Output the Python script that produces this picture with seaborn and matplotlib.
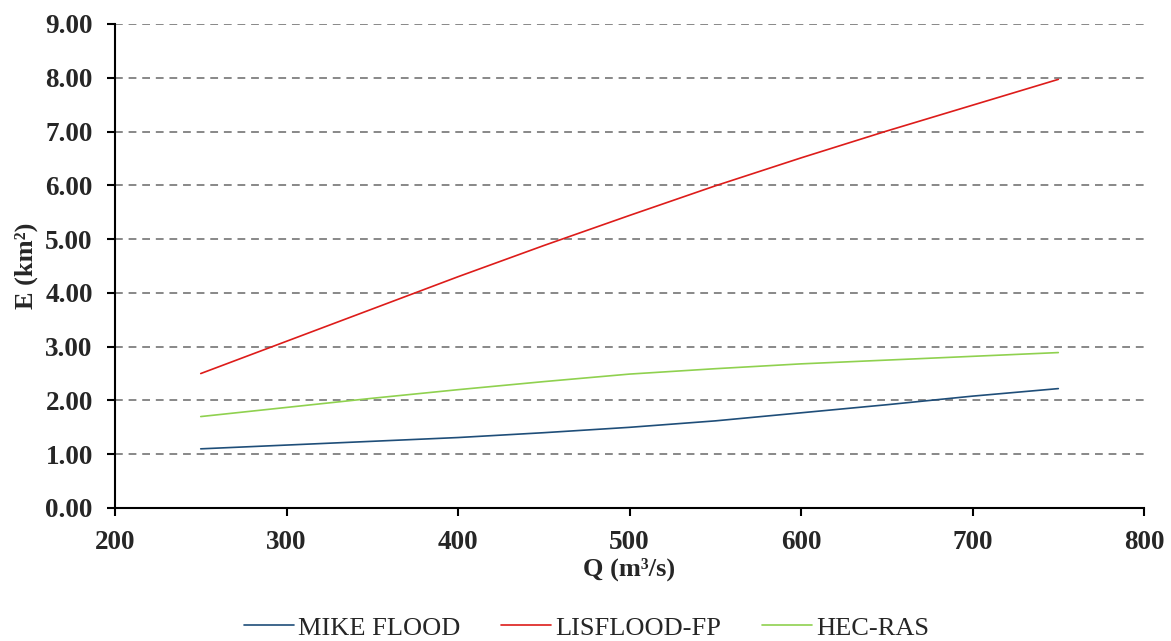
import matplotlib
matplotlib.use("Agg")
import matplotlib.pyplot as plt
import seaborn as sns
import pandas as pd
from matplotlib.ticker import FormatStrFormatter, MultipleLocator

# ---- data ----
discharge = [250, 300, 350, 400, 450, 500, 550, 600, 650, 700, 750]
mike_flood = [1.10, 1.17, 1.24, 1.31, 1.40, 1.50, 1.62, 1.77, 1.92, 2.08, 2.22]
lisflood_fp = [2.50, 3.10, 3.70, 4.30, 4.88, 5.44, 5.99, 6.51, 7.01, 7.49, 7.97]
hec_ras = [1.70, 1.87, 2.04, 2.20, 2.35, 2.49, 2.59, 2.68, 2.75, 2.82, 2.89]
series_names = ["MIKE FLOOD", "LISFLOOD-FP", "HEC-RAS"]
series_colors = ["#1F4E79", "#DD1C1A", "#8FD14F"]

df = pd.concat([
    pd.DataFrame({"Q": discharge, "E": vals, "model": name})
    for name, vals in zip(series_names, [mike_flood, lisflood_fp, hec_ras])
])

sns.set_theme(style="white")
plt.rcParams["font.family"] = ["Liberation Serif", "DejaVu Serif"]

fig = plt.figure(figsize=(11.71, 6.41), dpi=100)
ax = fig.add_axes([0.0982, 0.2075, 0.8788, 0.7551])

sns.lineplot(data=df, x="Q", y="E", hue="model", hue_order=series_names,
             palette=series_colors, linewidth=1.2, ax=ax, legend=False, sort=True)

ax.set_xlim(200, 800)
ax.set_ylim(0, 9)
ax.xaxis.set_major_locator(MultipleLocator(100))
ax.yaxis.set_major_locator(MultipleLocator(1))
ax.yaxis.set_major_formatter(FormatStrFormatter("%.2f"))

ax.yaxis.grid(True, color="#888888", linestyle=(0, (4, 3)), linewidth=1.4)
ax.xaxis.grid(False)
ax.set_axisbelow(True)

for s in ["top", "right"]:
    ax.spines[s].set_visible(False)
for s in ["left", "bottom"]:
    ax.spines[s].set_color("black")
    ax.spines[s].set_linewidth(1.5)

ax.tick_params(axis="both", which="major", direction="out", length=6, width=1.5,
               color="black", labelsize=19.5, pad=10)
ax.tick_params(axis="x", bottom=True)
ax.tick_params(axis="y", left=True)
for lbl in ax.get_xticklabels() + ax.get_yticklabels():
    lbl.set_fontweight("bold")

ax.set_xlabel("Q (m³/s)", fontsize=19, fontweight="bold", labelpad=2)
ax.set_ylabel("E (km²)", fontsize=19, fontweight="bold", labelpad=5)

handles = [plt.Line2D([0], [0], color=c, linewidth=1.2) for c in series_colors]
fig.legend(handles, series_names, loc="lower center", bbox_to_anchor=(0.501, -0.035),
           ncol=3, frameon=False, fontsize=19, handlelength=1.9, handletextpad=0.15,
           columnspacing=1.55)

fig.savefig("out.png", dpi=100)
